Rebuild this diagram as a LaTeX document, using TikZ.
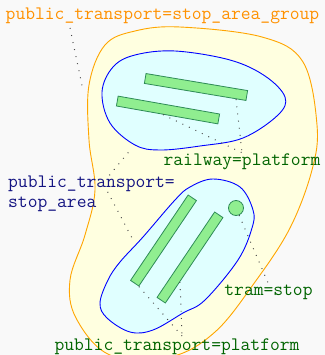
\documentclass[tikz,border=0pt]{standalone}
\usetikzlibrary{calc}
\definecolor{bgc}{RGB}{249,249,249}
\definecolor{grpfill}{RGB}{255,255,224}
\definecolor{grpline}{RGB}{255,165,0}
\definecolor{grptext}{RGB}{255,145,0}
\definecolor{areafill}{RGB}{224,255,255}
\definecolor{arealine}{RGB}{0,0,255}
\definecolor{areatext}{RGB}{20,20,130}
\definecolor{platfill}{RGB}{144,238,144}
\definecolor{platline}{RGB}{46,139,87}
\definecolor{tagtext}{RGB}{0,100,0}
\definecolor{ptr}{RGB}{70,70,70}
\begin{document}
\begin{tikzpicture}[x=1bp,y=1bp,
  tag/.style={font=\fontsize{19.1}{19.5}\selectfont\ttfamily, inner sep=0.5bp},
  platbox/.style={draw=platline, fill=platfill, line width=0.8bp, inner sep=0,
    minimum width=103bp, minimum height=10bp},
  stopdot/.style={circle, draw=platline, fill=platfill, line width=0.8bp,
    inner sep=0, minimum size=15bp},
  pointer/.style={draw=ptr, line width=1bp, dash pattern=on 0.9bp off 6.3bp}]
\fill[bgc] (0,0) rectangle (325,355);
\useasboundingbox (0,0) rectangle (325,355);
\clip (0,0) rectangle (325,355);

% stop area group
\draw[grpline, fill=grpfill, line width=0.9bp] plot[smooth cycle, tension=0.6] coordinates {
  (180,328) (262,318) (303,293) (317,230) (312,185) (290,127) (255,73)
  (215,23) (170,-2) (110,0) (76,37) (70,75) (85,120) (95,165) (89,215)
  (89,270) (105,310) (135,324)};

% railway stop area
\draw[arealine, fill=areafill, line width=0.9bp] plot[smooth cycle, tension=0.6] coordinates {
  (102,263) (113,288) (135,300) (175,304) (230,295) (265,279) (285,258)
  (278,240) (243,217) (200,209) (160,205) (135,210) (110,232)};

% tram stop area
\draw[arealine, fill=areafill, line width=0.9bp] plot[smooth cycle, tension=0.6] coordinates {
  (213,176) (240,168) (253,145) (252,127) (238,95) (205,55) (183,42)
  (153,25) (130,23) (107,37) (100,52) (108,75) (120,93) (143,118)
  (175,155) (190,168)};

% platforms and the tram stop
\node[platbox, rotate=-9.5] (ra) at (196,268) {};
\node[platbox, rotate=-10] (rb) at (168,245) {};
\node[platbox, rotate=56] (rc) at (163.5,114.5) {};
\node[platbox, rotate=56] (rd) at (190,97.5) {};
\node[stopdot] (ts) at (236,147) {};

% tags
\node[tag, text=grptext] (grp) at (162.5,339) {public\_transport=stop\_area\_group};
\node[tag, text=tagtext] (rail) at (242,193.5) {railway=platform};
\node[tag, text=areatext, align=left, anchor=north west] (sa) at (7.5,179.5)
  {public\_transport=\\stop\_area};
\node[tag, text=tagtext] (tram) at (268.5,63) {tram=stop};
\node[tag, text=tagtext] (plat) at (177,8.5) {public\_transport=platform};

% pointer ends
\coordinate (grpfrom) at (70,327);
\coordinate (grpto) at (83,265);
\coordinate (safrom) at (103,172);
\coordinate (saup) at (132,207);
\coordinate (salow) at (132,117);
\coordinate (platto) at (182,19);

% pointers
\draw[pointer] (grpfrom) -- (grpto);
\draw[pointer] ($(ra.south west)!0.9!(ra.south east)$) -- (rail.north);
\draw[pointer] ($(rb.south west)!0.46!(rb.south east)$) -- (rail.north);
\draw[pointer, shorten <=10bp] (safrom) -- (saup);
\draw[pointer, shorten <=10bp] (safrom) -- (salow);
\draw[pointer] (ts) -- (tram.north);
\draw[pointer] (rc.south west) -- (platto);
\draw[pointer] ($(rd.south west)!0.25!(rd.south east)$) -- (platto);
\end{tikzpicture}
\end{document}
